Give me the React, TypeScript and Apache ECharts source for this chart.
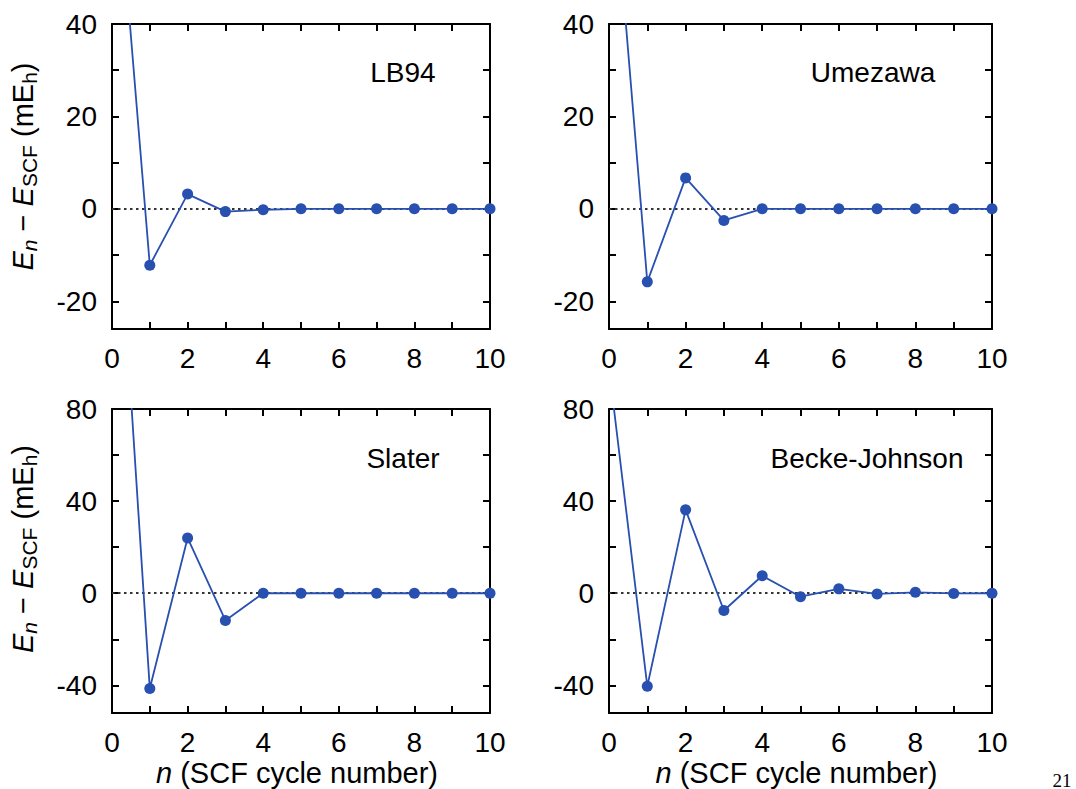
import React, { useEffect, useRef } from "react";
import * as echarts from "echarts";

const cycles = [0, 1, 2, 3, 4, 5, 6, 7, 8, 9, 10];
const lb94 = [87, -12.2, 3.2, -0.6, -0.2, 0, 0, 0, 0, 0, 0];
const umezawa = [84, -15.8, 6.7, -2.5, 0, 0, 0, 0, 0, 0, 0];
const slater = [212, -41.4, 24, -11.8, 0, 0, 0, 0, 0, 0, 0];
const beckeJohnson = [98, -40.4, 36.2, -7.5, 7.6, -1.5, 1.9, -0.3, 0.4, -0.1, 0];

const panelNames = ["LB94", "Umezawa", "Slater", "Becke-Johnson"];
const panelSeries = [lb94, umezawa, slater, beckeJohnson];
const topYRange = [-26, 40];
const bottomYRange = [-52, 80];
const topYTicks = [-20, -10, 0, 10, 20, 30, 40];
const topYLabels = [-20, 0, 20, 40];
const bottomYTicks = [-40, -20, 0, 20, 40, 60, 80];
const bottomYLabels = [-40, 0, 40, 80];
const xTicks = [0, 2, 4, 6, 8, 10];

const FONT = "'Liberation Sans', Arial, Helvetica, sans-serif";
const BLUE = "#2850b0";

export default function App() {
  const ref = useRef<HTMLDivElement>(null);

  useEffect(() => {
    document.body.style.margin = "0";
    const chart = echarts.init(ref.current!, undefined, { renderer: "svg" });

    const grids = [
      { left: 112, top: 24, width: 378, height: 305 },
      { left: 609, top: 24, width: 383, height: 305 },
      { left: 112, top: 409, width: 378, height: 304 },
      { left: 609, top: 409, width: 383, height: 304 },
    ];
    const labelPos = [
      [403, 72],
      [873, 72],
      [403, 458],
      [867, 458],
    ];

    const axisLine = { show: true, onZero: false, lineStyle: { color: "#000", width: 2 } };
    const tickStyle = { color: "#000", width: 2 };

    const xAxes: any[] = [];
    const yAxes: any[] = [];
    const series: any[] = [];

    grids.forEach((g, i) => {
      const isBottom = i >= 2;
      const isLeft = i % 2 === 0;
      const range = isBottom ? bottomYRange : topYRange;
      const ticks = isBottom ? bottomYTicks : topYTicks;
      const labels = isBottom ? bottomYLabels : topYLabels;

      xAxes.push({
        type: "value",
        gridIndex: i,
        position: "bottom",
        min: 0,
        max: 10,
        interval: 1,
        axisLine,
        axisTick: { show: true, inside: true, length: 7, lineStyle: tickStyle },
        splitLine: { show: false },
        axisLabel: {
          show: true,
          margin: 15,
          color: "#000",
          fontSize: 28,
          fontFamily: FONT,
          customValues: xTicks,
          formatter: (v: number) => String(v),
        },
        name: isBottom ? "{it|n} (SCF cycle number)" : "",
        nameLocation: "middle",
        nameGap: 45,
        nameTextStyle: {
          color: "#000",
          fontSize: 29,
          fontFamily: FONT,
          padding: [0, 8, 0, 0],
          rich: {
            it: { fontStyle: "italic", fontSize: 29, fontFamily: FONT, color: "#000" },
          },
        },
      });
      xAxes.push({
        type: "value",
        gridIndex: i,
        position: "top",
        min: 0,
        max: 10,
        interval: 1,
        axisLine,
        axisTick: { show: true, inside: true, length: 7, lineStyle: tickStyle },
        splitLine: { show: false },
        axisLabel: { show: false },
      });

      yAxes.push({
        type: "value",
        gridIndex: i,
        position: "left",
        min: range[0],
        max: range[1],
        axisLine,
        axisTick: { show: true, inside: true, length: 7, lineStyle: tickStyle, customValues: ticks },
        splitLine: { show: false },
        axisLabel: {
          show: true,
          margin: 15,
          color: "#000",
          fontSize: 28,
          fontFamily: FONT,
          customValues: labels,
        },
        name: isLeft
          ? "{it|E}{itsub|n}{n| − }{it|E}{sub|SCF}{n| (mE}{sub|h}{n|)}"
          : "",
        nameLocation: "middle",
        nameRotate: 90,
        nameGap: 72,
        nameTextStyle: {
          color: "#000",
          fontSize: 29,
          fontFamily: FONT,
          padding: [0, 0, 0, isBottom ? 24 : 20],
          rich: {
            it: { fontStyle: "italic", fontSize: 29, lineHeight: 34, fontFamily: FONT, color: "#000" },
            n: { fontSize: 29, lineHeight: 34, fontFamily: FONT, color: "#000" },
            itsub: {
              fontStyle: "italic",
              fontSize: 21,
              lineHeight: 20,
              verticalAlign: "bottom",
              fontFamily: FONT,
              color: "#000",
            },
            sub: { fontSize: 21, lineHeight: 20, verticalAlign: "bottom", fontFamily: FONT, color: "#000" },
          },
        },
      });
      yAxes.push({
        type: "value",
        gridIndex: i,
        position: "right",
        min: range[0],
        max: range[1],
        axisLine,
        axisTick: { show: true, inside: true, length: 7, lineStyle: tickStyle, customValues: ticks },
        splitLine: { show: false },
        axisLabel: { show: false },
      });

      series.push({
        type: "line",
        name: panelNames[i],
        xAxisIndex: 2 * i,
        yAxisIndex: 2 * i,
        data: cycles.map((n, k) => [n, panelSeries[i][k]]),
        symbol: "circle",
        symbolSize: 11,
        showSymbol: true,
        showAllSymbol: true,
        clip: true,
        itemStyle: { color: BLUE },
        lineStyle: { color: BLUE, width: 1.8 },
        z: 3,
        markLine: {
          silent: true,
          symbol: "none",
          label: { show: false },
          lineStyle: { color: "#333", type: [2.5, 3.5], width: 2 },
          data: [{ yAxis: 0 }],
          z: 2,
        },
      });
    });

    const graphic: any[] = panelNames.map((name, i) => ({
      type: "text",
      x: labelPos[i][0],
      y: labelPos[i][1],
      style: {
        text: name,
        fill: "#000",
        font: `28px ${FONT}`,
        textAlign: "center",
        textVerticalAlign: "middle",
      },
    }));
    graphic.push({
      type: "text",
      x: 1062,
      y: 780,
      style: {
        text: "21",
        fill: "#000",
        font: "19px 'Liberation Serif', 'Times New Roman', serif",
        textAlign: "center",
        textVerticalAlign: "middle",
      },
    });

    chart.setOption({
      animation: false,
      backgroundColor: "#fff",
      grid: grids.map((g) => ({ ...g, containLabel: false })),
      xAxis: xAxes,
      yAxis: yAxes,
      series,
      graphic,
    });

    return () => chart.dispose();
  }, []);

  return <div ref={ref} style={{ width: 1076, height: 789 }} />;
}
